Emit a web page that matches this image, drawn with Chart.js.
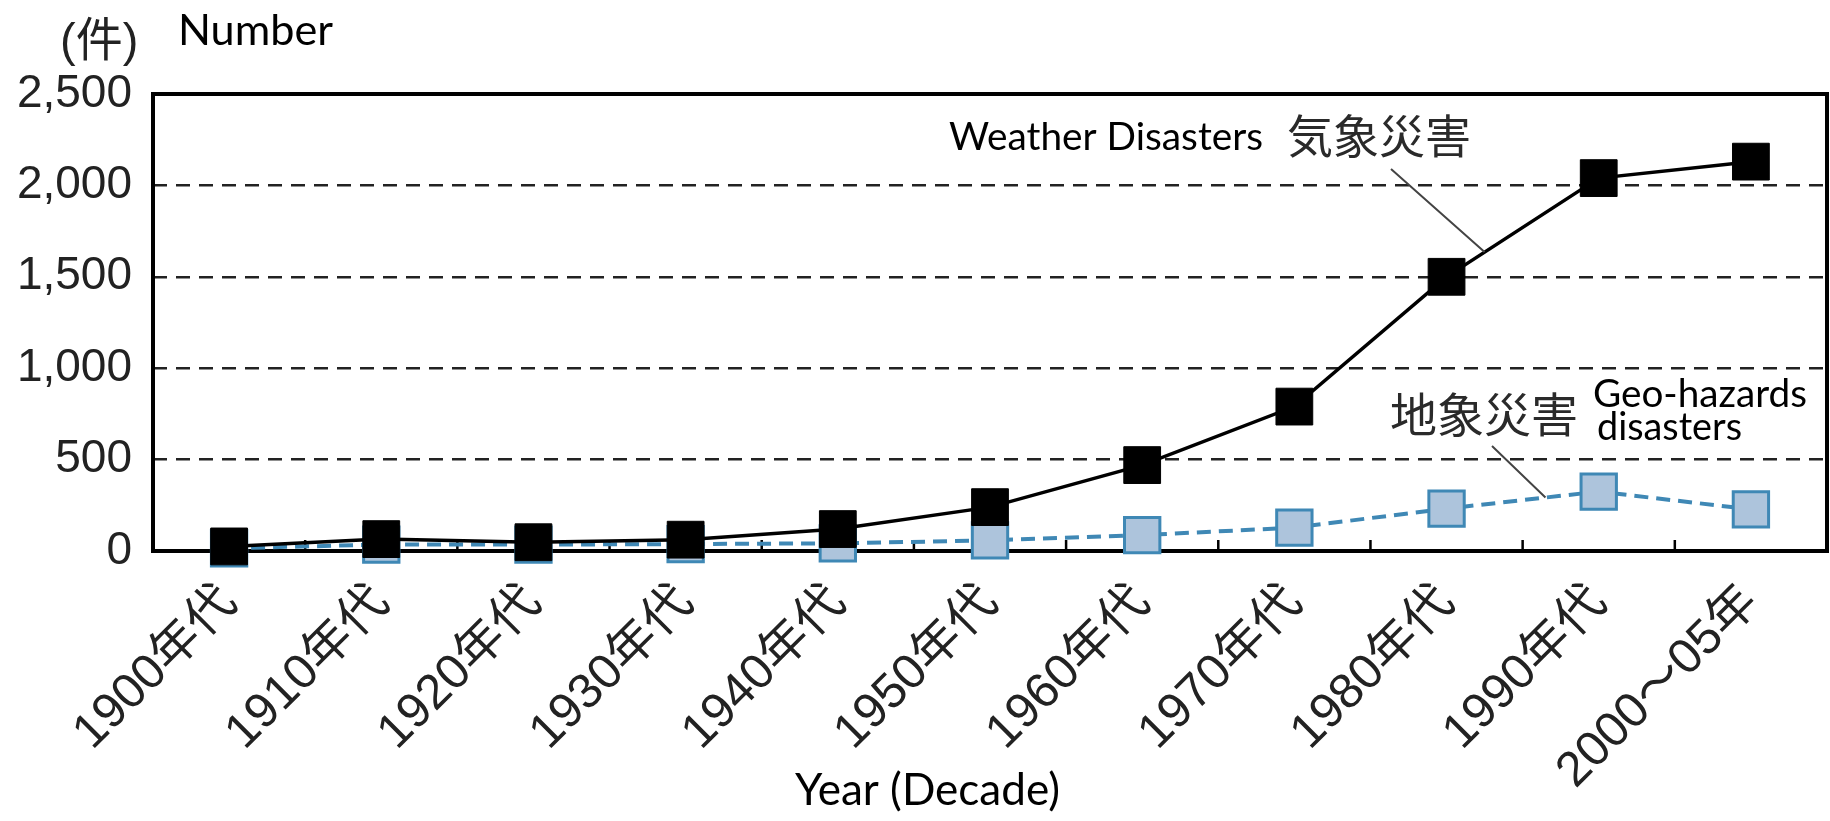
<!DOCTYPE html>
<html>
<head>
<meta charset="utf-8">
<script src="https://cdn.jsdelivr.net/npm/chart.js@4.4.1/dist/chart.umd.min.js"></script>
<style>
  html, body { margin: 0; padding: 0; background: #fff; }
  #wrap { width: 1830px; height: 821px; position: relative; }
  canvas { display: block; }
</style>
</head>
<body>
<div id="wrap"><canvas id="chart" width="1830" height="821"></canvas></div>
<script>
// Disaster counts per decade (件)
const decades = ['1900年代', '1910年代', '1920年代', '1930年代', '1940年代', '1950年代',
                 '1960年代', '1970年代', '1980年代', '1990年代', '2000～05年'];
const weatherDisasters = [25, 65, 48, 62, 120, 240, 470, 790, 1500, 2040, 2130];
const geoHazards = [15, 35, 35, 38, 42, 58, 87, 128, 232, 325, 228];
const yTicks = [0, 500, 1000, 1500, 2000, 2500];

const AXIS_FONT = '"Liberation Sans", "Noto Sans CJK JP", sans-serif';
const NOTE_FONT = 'Lato, "Open Sans", sans-serif';
const CJK_FONT = '"Noto Sans CJK JP", sans-serif';

// Set a font whose size makes `text` exactly `width` pixels wide
function fitFont(ctx, text, family, width) {
  ctx.font = '100px ' + family;
  const size = 100 * width / ctx.measureText(text).width;
  ctx.font = size.toFixed(2) + 'px ' + family;
}

// Point along the segment between data points i and i+1 of a dataset
function pointBetween(chart, dsIndex, i, t) {
  const pts = chart.getDatasetMeta(dsIndex).data;
  return { x: pts[i].x + (pts[i + 1].x - pts[i].x) * t,
           y: pts[i].y + (pts[i + 1].y - pts[i].y) * t };
}

const framePlugin = {
  id: 'frameAndNotes',
  beforeDatasetsDraw(chart) {
    const { ctx, chartArea: a, scales: { x } } = chart;
    ctx.save();
    // small inward tick marks between decades
    ctx.strokeStyle = '#000';
    ctx.lineWidth = 2.5;
    ctx.beginPath();
    for (let i = 0; i < decades.length - 1; i++) {
      const bx = (x.getPixelForValue(i) + x.getPixelForValue(i + 1)) / 2;
      ctx.moveTo(bx, a.bottom);
      ctx.lineTo(bx, a.bottom - 11);
    }
    ctx.stroke();
    // plot frame
    ctx.lineWidth = 4;
    ctx.strokeRect(a.left, a.top, a.right - a.left, a.bottom - a.top);
    ctx.restore();
  },
  afterDraw(chart) {
    const { ctx } = chart;
    ctx.save();
    ctx.textAlign = 'left';

    // unit label
    ctx.fillStyle = '#222';
    ctx.textBaseline = 'alphabetic';
    ctx.font = '47px ' + AXIS_FONT;
    ctx.fillText('(件)', 60, 56);

    // English captions
    ctx.fillStyle = '#000';
    const notes = [
      { text: 'Number', x: 178, y: 45, w: 155 },
      { text: 'Weather Disasters', x: 949, y: 150, w: 314 },
      { text: 'Geo-hazards', x: 1593, y: 407, w: 214 },
      { text: 'disasters', x: 1597, y: 440, w: 145 },
      { text: 'Year (Decade)', x: 795, y: 805, w: 265 }
    ];
    notes.forEach(n => {
      fitFont(ctx, n.text, NOTE_FONT, n.w);
      ctx.fillText(n.text, n.x, n.y);
    });

    // Japanese series labels
    ctx.fillStyle = '#2a2a2a';
    ctx.textBaseline = 'middle';
    ctx.font = '46px ' + CJK_FONT;
    ctx.fillText('気象災害', 1287, 136);
    ctx.font = '47px ' + CJK_FONT;
    ctx.fillText('地象災害', 1390, 414);

    // leader lines from labels to their series
    ctx.strokeStyle = '#444';
    ctx.lineWidth = 2;
    const w = pointBetween(chart, 0, 8, 0.25);
    const g = pointBetween(chart, 1, 8, 0.65);
    ctx.beginPath();
    ctx.moveTo(1391, 169); ctx.lineTo(w.x, w.y);
    ctx.moveTo(1492, 446); ctx.lineTo(g.x, g.y);
    ctx.stroke();
    ctx.restore();
  }
};

function build() {
  new Chart(document.getElementById('chart'), {
    type: 'line',
    data: {
      labels: decades,
      datasets: [
        {
          label: '気象災害',
          data: weatherDisasters,
          borderColor: '#000',
          borderWidth: 3.5,
          tension: 0,
          pointStyle: 'rect',
          pointRadius: 26,
          pointBackgroundColor: '#000',
          pointBorderColor: '#000',
          pointBorderWidth: 1,
          clip: false
        },
        {
          label: '地象災害',
          data: geoHazards,
          borderColor: '#3f88b5',
          borderWidth: 4,
          borderDash: [14, 8],
          tension: 0,
          pointStyle: 'rect',
          pointRadius: 25,
          pointBackgroundColor: '#adc4dc',
          pointBorderColor: '#3f88b5',
          pointBorderWidth: 3,
          clip: false
        }
      ]
    },
    options: {
      responsive: false,
      devicePixelRatio: 1,
      animation: false,
      events: [],
      layout: { autoPadding: false, padding: { top: 94, right: 3, left: 0, bottom: 0 } },
      plugins: { legend: { display: false }, tooltip: { enabled: false } },
      scales: {
        x: {
          type: 'category',
          offset: true,
          grid: { display: false, drawTicks: false },
          border: { display: false },
          ticks: {
            autoSkip: false,
            minRotation: 45,
            maxRotation: 45,
            padding: 23,
            color: '#222',
            font: { family: AXIS_FONT, size: 49 }
          },
          afterFit(scale) {
            scale.height = 270;
            scale.paddingLeft = 0;
            scale.paddingRight = 0;
          }
        },
        y: {
          min: 0,
          max: 2500,
          afterBuildTicks(scale) { scale.ticks = yTicks.map(v => ({ value: v })); },
          grid: {
            drawTicks: false,
            lineWidth: 2.5,
            color: c => (c.tick && (c.tick.value === 0 || c.tick.value === 2500)) ? 'rgba(0,0,0,0)' : '#222'
          },
          border: { display: false, dash: [14, 9] },
          ticks: {
            padding: 21,
            color: '#222',
            font: { family: AXIS_FONT, size: 46 },
            callback: v => v.toLocaleString('en-US')
          },
          afterFit(scale) {
            scale.width = 153;
            scale.paddingTop = 0;
            scale.paddingBottom = 0;
          }
        }
      }
    },
    plugins: [framePlugin]
  });
}

const fontLoads = ['46px "Liberation Sans"', '46px "Noto Sans CJK JP"', '40px Lato']
  .map(f => document.fonts.load(f, 'Number 気象災害件年代').catch(() => null));
Promise.all(fontLoads).then(build, build);
</script>
</body>
</html>
